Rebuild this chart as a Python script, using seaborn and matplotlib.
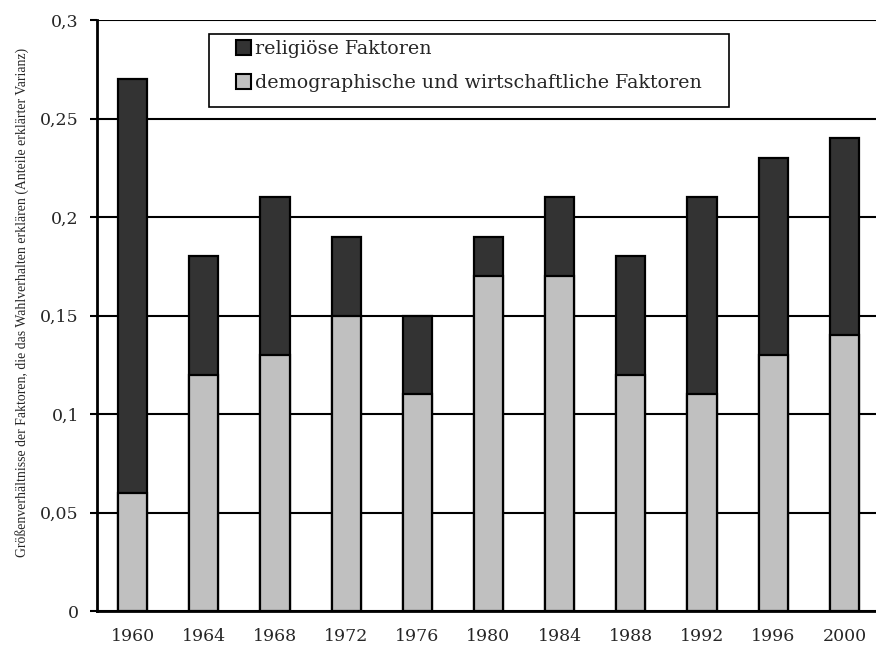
import numpy as np
import pandas as pd
import matplotlib
matplotlib.use('Agg')
import matplotlib.pyplot as plt
from matplotlib.patches import Patch, Rectangle
import seaborn as sns

# Data
years = ['1960', '1964', '1968', '1972', '1976', '1980', '1984', '1988', '1992', '1996', '2000']
demographic = [0.06, 0.12, 0.13, 0.15, 0.11, 0.17, 0.17, 0.12, 0.11, 0.13, 0.14]
religious = [0.21, 0.06, 0.08, 0.04, 0.04, 0.02, 0.04, 0.06, 0.10, 0.10, 0.10]
y_ticks = [0, 0.05, 0.1, 0.15, 0.2, 0.25, 0.3]
y_ticklabels = ['0', '0,05', '0,1', '0,15', '0,2', '0,25', '0,3']

df = pd.DataFrame({'year': years, 'demo': demographic, 'relig': religious})
df['total'] = df['demo'] + df['relig']

sns.set_style('white')
plt.rcParams['font.family'] = ['DejaVu Serif']

dark = '#333333'
light = '#c0c0c0'
W, H = 876, 650

fig = plt.figure(figsize=(8.76, 6.5), dpi=100)
ax = fig.add_axes([97 / W, 1 - 611 / H, (880 - 97) / W, (611 - 20) / H])

# stacked bars: total (dark) first, then light bottom on top
sns.barplot(data=df, x='year', y='total', color=dark, edgecolor='black',
            linewidth=1.6, width=0.41, saturation=1, ax=ax, zorder=3)
sns.barplot(data=df, x='year', y='demo', color=light, edgecolor='black',
            linewidth=1.6, width=0.41, saturation=1, ax=ax, zorder=4)

ax.set_ylim(0, 0.3)
ax.set_xlim(-0.5, len(years) - 0.5)
ax.set_yticks(y_ticks)
ax.set_yticklabels(y_ticklabels, fontsize=12.5)
ax.yaxis.grid(True, color='black', linewidth=1.5)
ax.set_axisbelow(True)

ax.set_xticks(range(len(years)))
ax.set_xticklabels(years, fontsize=12.5)
ax.set_xticks(np.arange(-0.5, len(years) - 0.4, 1), minor=True)
ax.tick_params(axis='x', which='major', length=0, pad=12)
ax.tick_params(axis='x', which='minor', length=5, width=1.5, color='black', direction='out')
ax.tick_params(axis='y', length=5, width=1.5, color='black', direction='out', left=True, pad=8)

for s in ['top', 'right']:
    ax.spines[s].set_visible(False)
for s in ['left', 'bottom']:
    ax.spines[s].set_color('black')
    ax.spines[s].set_linewidth(2)

ax.set_xlabel('')
ax.set_ylabel('')
fig.text(0.025, 0.535, 'Größenverhältnisse der Faktoren, die das Wahlverhalten erklären (Anteile erklärter Varianz)',
         rotation=90, fontsize=9.9, ha='center', va='center', family='Liberation Serif')

# legend box drawn separately so the padding matches
fig.patches.append(Rectangle((209 / W, 1 - 107 / H), (729 - 209) / W, (107 - 34) / H,
                             transform=fig.transFigure, facecolor='white', edgecolor='black',
                             linewidth=1.2, zorder=5))
handles = [Patch(facecolor=dark, edgecolor='black', linewidth=1.5, label='religiöse Faktoren'),
           Patch(facecolor=light, edgecolor='black', linewidth=1.5, label='demographische und wirtschaftliche Faktoren')]
leg = fig.legend(handles=handles, loc='upper left', bbox_to_anchor=(236 / W, 1 - 40 / H),
                 fontsize=13.7, frameon=False, handlelength=0.8, handleheight=0.8,
                 handletextpad=0.2, labelspacing=0.85, borderpad=0, borderaxespad=0)
leg.set_zorder(6)

fig.savefig('out.png', dpi=100, facecolor='white')
